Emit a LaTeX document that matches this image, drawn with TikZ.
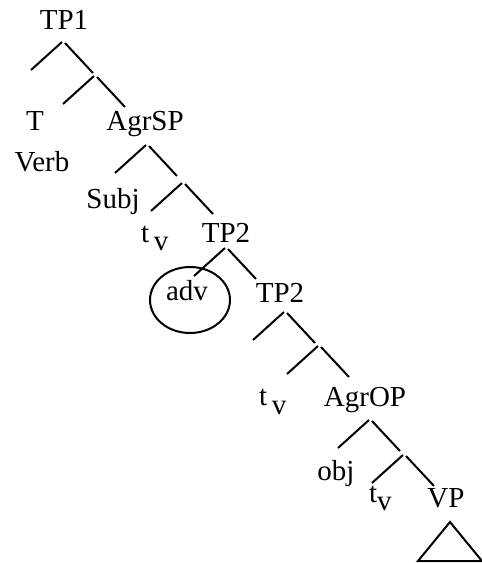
\documentclass[tikz,border=0pt]{standalone}
\usepackage{fontspec}
\setmainfont{Liberation Serif}
\usetikzlibrary{shapes.geometric,calc}

\begin{document}
\begin{tikzpicture}[x=1pt,y=-1pt,line width=2pt,
  every node/.style={font=\fontsize{29}{33}\selectfont,inner sep=0pt,anchor=base},
  ring/.style={draw,ellipse,anchor=center,minimum width=80pt,minimum height=66pt}]
\useasboundingbox (0,0) rectangle (482,563);
% labels
\node (tp1) at (64,29) {TP1};
\node (t) at (35,130) {T};
\node (agrsp) at (145,130) {AgrSP};
\node (verb) at (42,171) {Verb};
\node (subj) at (113,208) {Subj};
\node[anchor=base west] (tv1) at (140,242) {t\,\raisebox{-8pt}{v}};
\node (tp2a) at (226,242) {TP2};
\node (adv) at (187,300) {adv};
\node[ring] (advring) at (190,300) {};
\node (tp2b) at (280,302) {TP2};
\node[anchor=base west] (tv2) at (258,405) {t\,\raisebox{-9pt}{v}};
\node (agrop) at (365,406) {AgrOP};
\node (obj) at (336,480) {obj};
\node[anchor=base west] (tv3) at (368,502) {t\raisebox{-8pt}{v}};
\node (vp) at (446,507) {VP};
% branches
\foreach \n/\x/\y in {b1/62/42,b2/94/76,b3/146/145,b4/182/183,b5/225/248,
                      b6/284/312,b7/318/346,b8/369/420,b9/403/455} {
  \coordinate (\n) at (\x,\y);
  \coordinate (\n-l) at ($(\n)+(-31,28)$);
  \coordinate (\n-r) at ($(\n)+(31,31)$);
  \draw (\n-l) -- (\n);
  \draw ($(\n)+(3,1)$) -- (\n-r);
}
% triangle under VP
\coordinate (tri) at (450,522);
\coordinate (tri-l) at (418,561);
\coordinate (tri-r) at (482,561);
\draw (tri) -- (tri-l) -- (tri-r) -- cycle;
\end{tikzpicture}
\end{document}
